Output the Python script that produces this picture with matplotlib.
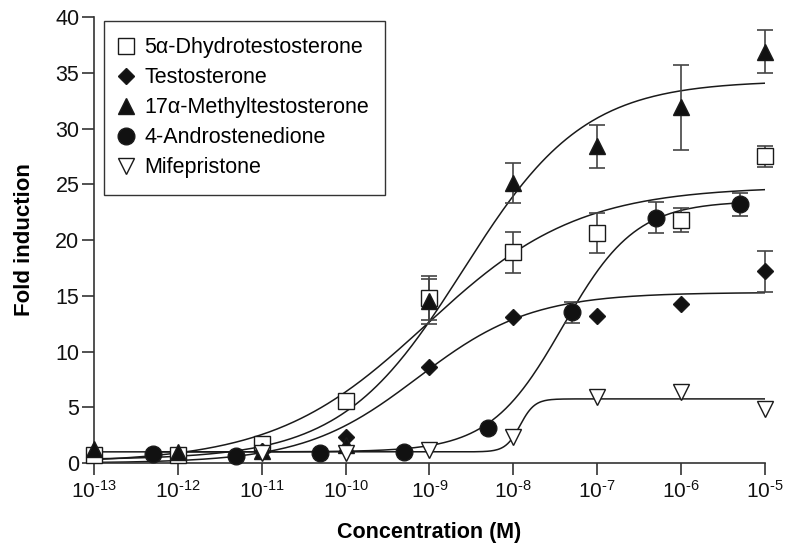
import numpy as np
import matplotlib
matplotlib.use("Agg")
import matplotlib.pyplot as plt

plt.rcParams['font.family'] = ['Liberation Sans', 'DejaVu Sans']

# concentrations (M), responses (fold induction) and error bars
dht_x = [1e-13, 1e-12, 1e-11, 1e-10, 1e-9, 1e-8, 1e-7, 1e-6, 1e-5]
dht_y = [0.7, 0.7, 1.7, 5.6, 14.8, 18.9, 20.6, 21.8, 27.5]
dht_err = [0, 0, 0, 0, 2.0, 1.85, 1.8, 1.05, 0.95]

testo_x = [1e-11, 1e-10, 1e-9, 1e-8, 1e-7, 1e-6, 1e-5]
testo_y = [1.1, 2.3, 8.6, 13.1, 13.2, 14.3, 17.2]
testo_err = [0, 0, 0, 0, 0, 0, 1.85]

mt_x = [1e-13, 1e-12, 1e-11, 1e-10, 1e-9, 1e-8, 1e-7, 1e-6, 1e-5]
mt_y = [1.25, 1.0, 1.1, 1.6, 14.5, 25.1, 28.4, 31.9, 36.9]
mt_err = [0, 0, 0, 0, 2.0, 1.8, 1.9, 3.8, 1.9]

andro_x = [5e-13, 5e-12, 5e-11, 5e-10, 5e-9, 5e-8, 5e-7, 5e-6]
andro_y = [0.8, 0.6, 0.9, 1.0, 3.1, 13.5, 22.0, 23.2]
andro_err = [0, 0, 0, 0, 0, 0.9, 1.4, 1.05]

mife_x = [1e-11, 1e-10, 1e-9, 1e-8, 1e-7, 1e-6, 1e-5]
mife_y = [0.9, 0.9, 1.2, 2.3, 5.9, 6.4, 4.8]
mife_err = [0, 0, 0, 0, 0, 0, 0]

labels = ['5α-Dhydrotestosterone', 'Testosterone', '17α-Methyltestosterone',
          '4-Androstenedione', 'Mifepristone']

# fitted dose-response curves: bottom, top, log EC50, hill slope, x-range
fit_bottom = [0.0, 0.0, 0.3, 1.0, 1.0]
fit_top = [24.8, 15.3, 34.3, 23.5, 5.75]
fit_logec50 = [-9.04, -9.14, -8.6, -7.41, -7.92]
fit_hill = [0.48, 0.64, 0.6, 1.0, 5.0]
fit_start = [-13, -13, -13, -12.3, -13]
fit_end = [-5, -5, -5, -5.3, -5]

xticks = [1e-13, 1e-12, 1e-11, 1e-10, 1e-9, 1e-8, 1e-7, 1e-6, 1e-5]
xexps = ['13', '12', '11', '10', '9', '8', '7', '6', '5']
xticklabels = [r'$\mathregular{10^{‐' + e + '}}$' for e in xexps]
yticks = [0, 5, 10, 15, 20, 25, 30, 35, 40]

fig = plt.figure(figsize=(7.87, 5.46), dpi=100)
ax = fig.add_axes([0.1194, 0.152, 0.8526, 0.8168])

series = [(dht_x, dht_y, dht_err), (testo_x, testo_y, testo_err),
          (mt_x, mt_y, mt_err), (andro_x, andro_y, andro_err),
          (mife_x, mife_y, mife_err)]
markers = ['s', 'D', '^', 'o', 'v']
msizes = [11.5, 8.5, 11.5, 12, 12]
faces = ['white', '#111111', '#111111', '#111111', 'white']

ink = '#1a1a1a'

# fitted curves
for i in range(5):
    lx = np.linspace(fit_start[i], fit_end[i], 400)
    fy = fit_bottom[i] + (fit_top[i] - fit_bottom[i]) / (1 + 10 ** ((fit_logec50[i] - lx) * fit_hill[i]))
    ax.plot(10 ** lx, fy, color=ink, lw=1.1, zorder=2)

# error bars and points
for i, (xs, ys, es) in enumerate(series):
    xs = np.array(xs)
    ys = np.array(ys)
    es = np.array(es)
    m = es > 0
    if m.any():
        ax.errorbar(xs[m], ys[m], yerr=es[m], fmt='none', ecolor='#444444',
                    elinewidth=1.2, capsize=6, capthick=1.2, zorder=3, clip_on=False)
    ax.plot(xs, ys, linestyle='none', marker=markers[i], ms=msizes[i],
            mfc=faces[i], mec=ink, mew=1.0, label=labels[i], zorder=4, clip_on=False)

ax.set_xscale('log')
ax.set_xlim(1e-13, 1e-5)
ax.set_ylim(0, 40)
ax.set_xticks(xticks)
ax.set_xticklabels(xticklabels, fontsize=15)
ax.xaxis.set_minor_locator(matplotlib.ticker.NullLocator())
ax.set_yticks(yticks)
ax.set_yticklabels([str(t) for t in yticks], fontsize=15.5)

for s in ['top', 'right']:
    ax.spines[s].set_visible(False)
for s in ['left', 'bottom']:
    ax.spines[s].set_color('#333333')
    ax.spines[s].set_linewidth(1.2)
ax.tick_params(length=8.5, width=1.2, color='#333333', labelcolor='#111111')
ax.tick_params(axis='x', pad=4)
ax.tick_params(axis='y', pad=2)

ax.set_xlabel('Concentration (M)', fontsize=15.5, fontweight='bold', labelpad=14)
ax.set_ylabel('Fold induction', fontsize=16, fontweight='bold')
ax.yaxis.set_label_coords(-0.088, 0.5)

leg = ax.legend(loc='upper left', bbox_to_anchor=(0.015, 0.991), borderaxespad=0,
                fontsize=15.5, handlelength=0.5, handletextpad=0.61, borderpad=0.75,
                labelspacing=0.42, fancybox=False, framealpha=1, edgecolor='#333333')
leg.get_frame().set_linewidth(1.0)

fig.savefig('out.png', dpi=100)
